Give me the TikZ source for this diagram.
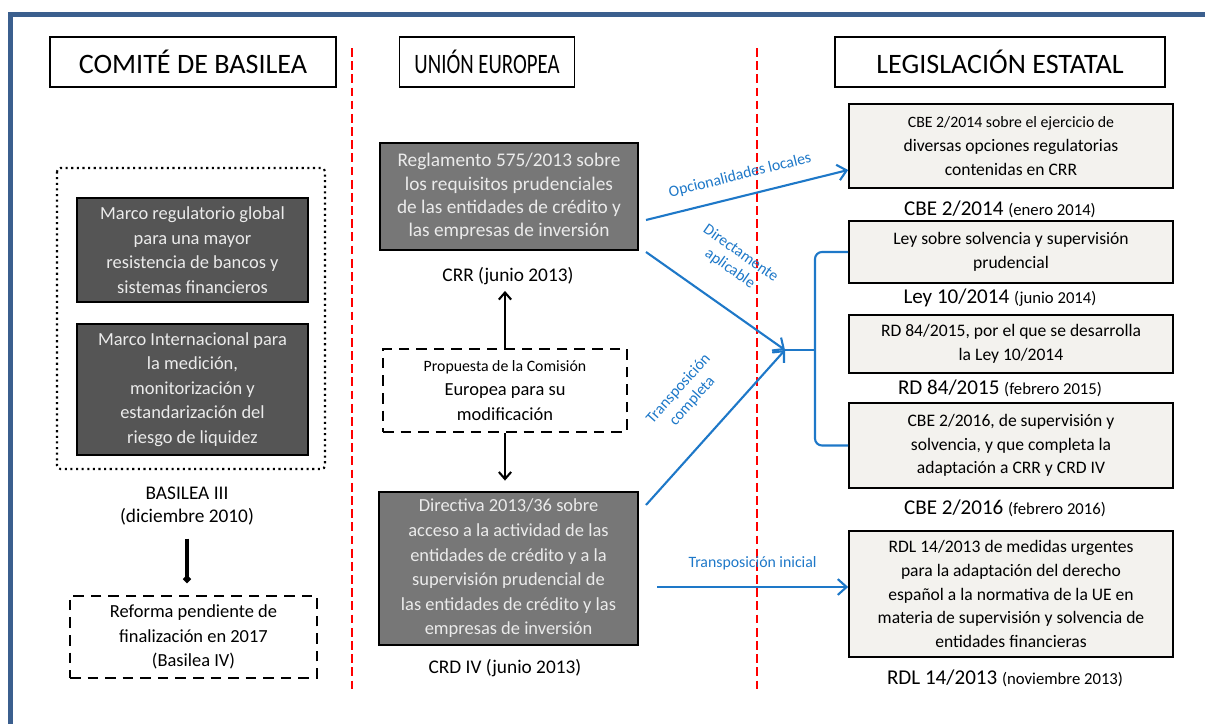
\documentclass[tikz,border=0pt]{standalone}
\usepackage{fontspec}
\setmainfont{Carlito}
\usetikzlibrary{arrows.meta}
\definecolor{grisoscuro}{HTML}{555555}
\definecolor{grisue}{HTML}{777777}
\definecolor{hoja}{HTML}{F3F2EE}
\definecolor{azul}{RGB}{30,120,200}
\definecolor{marcoazul}{RGB}{59,95,142}
\tikzset{
  titulo/.style={draw,line width=1pt,inner sep=0pt,font=\fontsize{16}{19}\selectfont},
  oscura/.style={draw,line width=1pt,fill=#1,text=white!92!black,align=center,inner sep=0pt,
    font=\fontsize{10.5}{14}\selectfont},
  rayada/.style={draw,line width=1.2pt,dash pattern=on 6pt off 4pt,align=center,inner sep=0pt,
    font=\fontsize{10.5}{14}\selectfont},
  clara/.style={draw,line width=1pt,fill=hoja,align=center,inner sep=0pt,
    font=\fontsize{10}{13.5}\selectfont},
  fecha/.style={font=\fontsize{12}{14}\selectfont},
  flecha/.style={azul,line width=1.2pt,-{Straight Barb[length=5pt,width=9pt]}},
  flechanegra/.style={line width=1.2pt,-{Straight Barb[length=4pt,width=7pt]}},
  etiq/.style={azul,font=\fontsize{9}{10.5}\selectfont,align=center}
}
\begin{document}
\begin{tikzpicture}[x=0.02cm,y=-0.02cm]
\useasboundingbox (0,0) rectangle (1205,724);
\draw[marcoazul,line width=0.1cm] (10.5,724) |- (1205,14);
% separadores
\foreach \X in {352,757}
  \draw[red,line width=1pt,dash pattern=on 5pt off 2.5pt] (\X,48) -- (\X,690);
% cabeceras
\node[titulo,minimum width=5.72cm,minimum height=1cm] (basilea) at (193,62) {COMITÉ DE BASILEA};
\node[titulo,minimum width=3.5cm,minimum height=1cm] (ue) at (487,62)
  {\scalebox{0.74}[1]{UNIÓN EUROPEA}};
\node[titulo,minimum width=6.6cm,minimum height=1cm] (estatal) at (1000,62) {LEGISLACIÓN ESTATAL};
% Basilea
\draw[line width=1.2pt,dotted,rounded corners=2pt] (57,168) rectangle (325,469);
\node[oscura=grisoscuro,minimum width=4.62cm,minimum height=2.08cm] (marco1) at (192.5,250)
  {Marco regulatorio global\\para una mayor\\resistencia de bancos y\\sistemas financieros};
\node[oscura=grisoscuro,minimum width=4.62cm,minimum height=2.62cm] (marco2) at (192.5,389.5)
  {Marco Internacional para\\la medición,\\monitorización y\\estandarización del\\riesgo de liquidez};
\node[align=center,font=\fontsize{11}{13.5}\selectfont] (basilea3) at (187,506) {BASILEA III\\(diciembre 2010)};
\node[rayada,minimum width=4.94cm,minimum height=1.64cm] (reforma) at (193.5,637)
  {Reforma pendiente de\\finalización en 2017\\(Basilea IV)};
\draw[line width=2pt,-{Circle[length=4pt]},shorten <=4pt,shorten >=7pt]
  (basilea3.south) -- (basilea3.south |- reforma.north);
% Union Europea
\node[oscura=grisue,minimum width=5.16cm,minimum height=2.14cm,font=\fontsize{11}{13.2}\selectfont] (crr) at (509,196.5)
  {Reglamento 575/2013 sobre\\los requisitos prudenciales\\de las entidades de crédito y\\las empresas de inversión};
\node[font=\fontsize{11}{13}\selectfont] (crrfecha) at (508,276) {CRR (junio 2013)};
\node[rayada,minimum width=4.88cm,minimum height=1.66cm] (propuesta) at (505,390.5)
  {{\fontsize{9}{12}\selectfont Propuesta de la Comisión}\\Europea para su\\modificación};
\node[oscura=grisue,minimum width=5.18cm,minimum height=3.06cm] (crd) at (508.5,568.5)
  {Directiva 2013/36 sobre\\acceso a la actividad de las\\entidades de crédito y a la\\supervisión prudencial de\\las entidades de crédito y las\\empresas de inversión};
\node[font=\fontsize{11}{13}\selectfont] (crdfecha) at (505,668) {CRD IV (junio 2013)};
\draw[flechanegra] (propuesta.north) -- (propuesta.north |- crrfecha.south);
\draw[flechanegra,shorten >=6pt] (propuesta.south) -- (propuesta.south |- crd.north);
% Legislacion estatal
\node[clara,minimum width=6.48cm,minimum height=1.68cm] (cbe14) at (1011,146)
  {{\fontsize{9}{12}\selectfont CBE 2/2014 sobre el ejercicio de}\\diversas opciones regulatorias\\contenidas en CRR};
\node[clara,minimum width=6.48cm,minimum height=1.24cm] (ley10) at (1011,252)
  {Ley sobre solvencia y supervisión\\prudencial};
\node[clara,minimum width=6.48cm,minimum height=1.16cm] (rd84) at (1011,344)
  {RD 84/2015, por el que se desarrolla\\la Ley 10/2014};
\node[clara,minimum width=6.48cm,minimum height=1.7cm] (cbe16) at (1011,445.5)
  {CBE 2/2016, de supervisión y\\solvencia, y que completa la\\adaptación a CRR y CRD IV};
\node[clara,minimum width=6.48cm,minimum height=2.52cm] (rdl14) at (1011,594)
  {RDL 14/2013 de medidas urgentes\\para la adaptación del derecho\\español a la normativa de la UE en\\materia de supervisión y solvencia de\\entidades financieras};
\node[fecha] (fcbe14) at (1000,209) {CBE 2/2014 {\fontsize{9.5}{11}\selectfont(enero 2014)}};
\node[fecha] (fley10) at (1000,298) {Ley 10/2014 {\fontsize{9.5}{11}\selectfont(junio 2014)}};
\node[fecha] (frd84) at (1000,388) {RD 84/2015 {\fontsize{9.5}{11}\selectfont(febrero 2015)}};
\node[fecha] (fcbe16) at (1005,508) {CBE 2/2016 {\fontsize{9.5}{11}\selectfont(febrero 2016)}};
\node[fecha] (frdl14) at (1005,678) {RDL 14/2013 {\fontsize{9.5}{11}\selectfont(noviembre 2013)}};
% conectores azules
\coordinate (opc) at (646,220);
\coordinate (dir) at (646,252);
\coordinate (comp) at (646,505);
\coordinate (ini) at (657,587);
\coordinate (punta) at (785,350);
\coordinate (llave) at (815,350);
\draw[flecha] (opc) -- node[etiq,sloped,above=4pt,pos=0.49] {Opcionalidades locales} ([yshift=-0.48cm]cbe14.west);
\draw[flecha] (dir) -- node[etiq,sloped,above=12pt,pos=0.46] {Directamente\\aplicable} (punta);
\draw[flecha] (comp) -- node[etiq,sloped,above=12pt,pos=0.52] {Transposición\\completa} (punta);
\draw[flecha] (ini) -- node[etiq,above=6pt,pos=0.5] {Transposición inicial} (rdl14.west |- ini);
\draw[azul,line width=1.2pt,rounded corners=4pt] (ley10.west) -| (llave) |- (cbe16.west);
\draw[azul,line width=1.2pt] (punta) -- (llave);
\end{tikzpicture}
\end{document}
